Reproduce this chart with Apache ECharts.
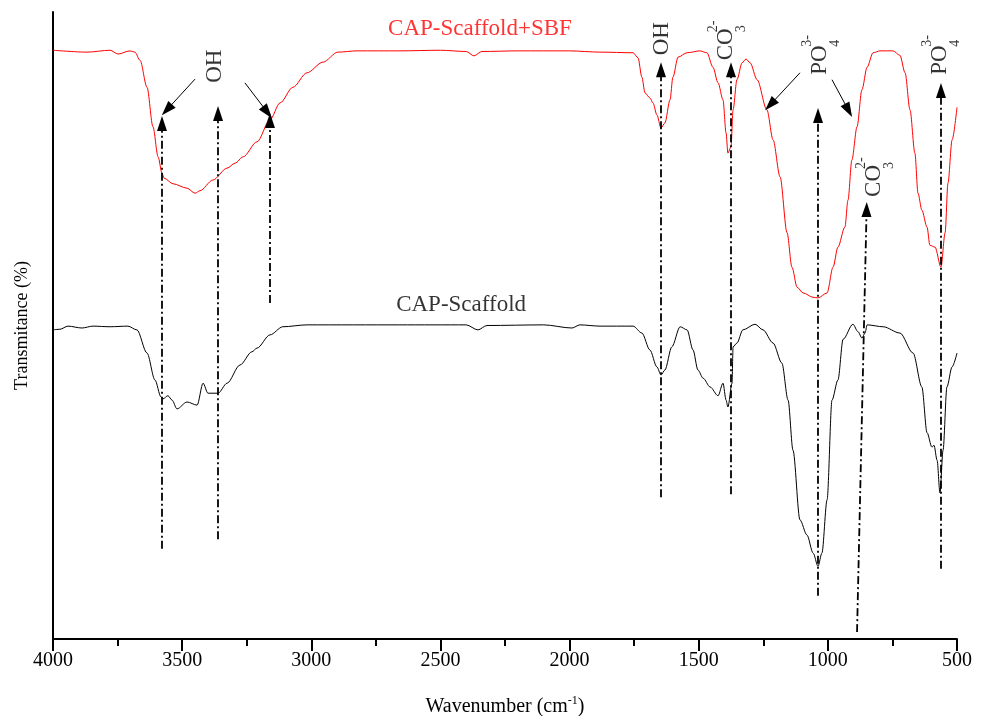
<!DOCTYPE html>
<html>
<head>
<meta charset="utf-8">
<script src="https://cdn.jsdelivr.net/npm/echarts@6/dist/echarts.min.js"></script>
<style>
  html, body { margin: 0; padding: 0; background: #fff; }
  #chart { width: 988px; height: 716px; }
</style>
</head>
<body>
<div id="chart"></div>
<script>
// FTIR spectra (wavenumber in cm-1, transmittance in arbitrary %)
const sbfWave = [4000, 3868, 3779, 3748, 3702, 3683, 3663, 3636, 3613, 3593, 3578, 3570, 3535, 3481, 3450, 3431, 3381, 3326, 3295, 3264, 3210, 3160, 3121, 3071, 3017, 2955, 2897, 2823, 2657, 2500, 2400, 2370, 2340, 2200, 2000, 1882, 1754, 1735, 1720, 1708, 1689, 1677, 1662, 1646, 1631, 1611, 1600, 1580, 1545, 1495, 1468, 1445, 1425, 1406, 1394, 1387, 1375, 1367, 1352, 1332, 1317, 1301, 1274, 1236, 1212, 1185, 1158, 1139, 1119, 1096, 1057, 1038, 1003, 980, 961, 934, 922, 907, 887, 868, 848, 825, 798, 748, 721, 701, 682, 663, 651, 636, 616, 605, 585, 562, 546, 535, 519, 500];
const sbfTrans = [93.9, 93.6, 93.9, 93.3, 93.8, 93.6, 92.3, 88.0, 81.7, 76.9, 74.3, 73.5, 72.6, 71.9, 71.1, 71.5, 73.2, 75.1, 75.9, 76.9, 79.3, 82.8, 85.5, 88.0, 90.3, 92.0, 93.6, 93.8, 93.8, 93.9, 93.7, 93.0, 93.7, 93.8, 93.8, 93.6, 93.5, 92.7, 89.6, 87.1, 86.3, 85.5, 83.6, 81.5, 82.3, 86.0, 89.6, 92.8, 93.5, 93.8, 93.5, 91.2, 88.7, 86.0, 80.7, 77.5, 78.5, 84.4, 89.2, 91.9, 92.5, 91.9, 89.2, 84.4, 79.6, 73.7, 64.8, 59.3, 56.1, 55.2, 54.5, 54.4, 55.2, 59.3, 62.5, 65.7, 70.0, 76.4, 81.7, 87.6, 91.2, 93.5, 93.8, 93.8, 93.1, 90.3, 84.4, 77.5, 71.1, 68.4, 65.7, 62.8, 62.5, 59.3, 64.8, 72.7, 79.6, 84.8];

const scaffoldWave = [4000, 3973, 3942, 3888, 3845, 3779, 3710, 3675, 3636, 3605, 3582, 3574, 3555, 3539, 3520, 3481, 3442, 3419, 3400, 3361, 3326, 3276, 3230, 3210, 3160, 3110, 3017, 2657, 2400, 2355, 2320, 2100, 1991, 1960, 1882, 1754, 1720, 1689, 1662, 1646, 1631, 1604, 1572, 1545, 1522, 1503, 1483, 1456, 1425, 1406, 1394, 1387, 1371, 1367, 1352, 1329, 1282, 1251, 1212, 1178, 1154, 1135, 1108, 1081, 1057, 1038, 1023, 1003, 984, 961, 941, 903, 883, 868, 856, 848, 786, 721, 670, 636, 616, 597, 589, 577, 566, 554, 539, 519, 500];
const scaffoldTrans = [49.3, 49.4, 49.9, 49.6, 49.9, 49.8, 49.9, 49.3, 45.6, 41.3, 38.6, 38.3, 38.8, 38.1, 36.7, 37.8, 37.3, 40.8, 39.2, 39.2, 40.8, 43.7, 45.8, 46.4, 48.5, 49.8, 50.1, 50.1, 50.1, 49.3, 50.0, 50.1, 49.6, 50.1, 49.9, 49.9, 48.8, 46.1, 43.4, 42.1, 42.9, 46.6, 49.8, 49.3, 46.1, 42.9, 41.6, 40.2, 38.8, 40.8, 38.1, 37.0, 40.8, 46.6, 47.2, 49.3, 50.2, 49.3, 47.2, 44.0, 38.1, 30.1, 19.0, 16.6, 13.7, 11.6, 13.7, 22.2, 38.1, 41.3, 47.8, 50.2, 49.0, 48.0, 48.8, 50.1, 49.8, 48.8, 45.6, 40.2, 32.9, 30.6, 30.9, 28.5, 23.3, 30.1, 40.2, 43.4, 45.6];

// Band assignment guides (dash-dot, arrowhead centred on the upper end)
const guideFromWave = [3578, 3361, 3160, 1646, 1375, 1038, 887, 562];
const guideFromTrans = [14.4, 15.9, 53.6, 22.6, 23.1, 6.9, 1.1, 11.2];
const guideToWave = [3578, 3361, 3160, 1646, 1375, 1038, 850, 562];
const guideToTrans = [82.2, 83.8, 82.7, 90.8, 90.8, 83.5, 68.5, 87.5];

// Solid pointer arrows from the group labels
const pointerFromWave = [3450, 3257, 1108, 984];
const pointerFromTrans = [89.3, 88.7, 90.3, 89.2];
const pointerToWave = [3559, 3170, 1223, 920];
const pointerToTrans = [84.4, 84.0, 85.2, 84.3];

// Functional group labels
const bandIon = ['OH', 'OH', 'CO', 'PO', 'CO', 'PO'];
const bandCharge = ['', '', '2-', '3-', '2-', '3-'];
const bandCount = ['', '', '3', '4', '3', '4'];
const bandWave = [3373, 1642, 1387, 1023, 814, 558];
const bandTrans = [88.7, 93.1, 92.3, 90.0, 70.5, 90.0];

// Sample names
const sampleNames = ['CAP-Scaffold+SBF', 'CAP-Scaffold'];
const sampleNameWave = [2347, 2420];
const sampleNameTrans = [97.3, 53.3];

const serif = "'Liberation Serif', 'Times New Roman', 'DejaVu Serif', serif";

function zip(xs, ys) { return xs.map((x, i) => [x, ys[i]]); }

const dashDot = { color: '#000', width: 1.8, type: [8, 3, 2, 3] };
const solid = { color: '#000', width: 1, type: 'solid' };
const head = { symbol: 'triangle', symbolSize: [10, 15] };

const lineMarks = [];
guideFromWave.forEach((w, i) => {
  lineMarks.push([
    { coord: [w, guideFromTrans[i]], symbol: 'none', lineStyle: dashDot },
    Object.assign({ coord: [guideToWave[i], guideToTrans[i]] }, head)
  ]);
});
pointerFromWave.forEach((w, i) => {
  lineMarks.push([
    { coord: [w, pointerFromTrans[i]], symbol: 'none', lineStyle: solid },
    Object.assign({ coord: [pointerToWave[i], pointerToTrans[i]] }, head)
  ]);
});

const bandLabelData = bandIon.map((ion, i) => {
  let text = '{m|' + ion + '}';
  if (bandCharge[i]) {
    text = '{gap|}{sup|' + bandCharge[i] + '}\n' + text + '\n{gap|}{sub|' + bandCount[i] + '}';
  }
  return { value: [bandWave[i], bandTrans[i]], label: { formatter: text } };
});

const nameData = sampleNames.map((n, i) => ({
  value: [sampleNameWave[i], sampleNameTrans[i]],
  label: {
    formatter: n, rotate: 0, align: 'center', verticalAlign: 'middle',
    fontSize: 23, color: i === 0 ? '#ff0000' : '#000'
  }
}));

const chart = echarts.init(document.getElementById('chart'), null, { renderer: 'canvas' });
chart.setOption({
  animation: false,
  backgroundColor: '#fff',
  grid: { left: 53, right: 31, top: 12, bottom: 77, containLabel: false, outerBoundsMode: 'none' },
  xAxis: {
    type: 'value', min: 500, max: 4000, interval: 500, inverse: true,
    axisLine: { show: true, onZero: false, lineStyle: { color: '#000', width: 2 } },
    axisTick: { show: true, inside: false, length: 12, lineStyle: { color: '#000', width: 2 } },
    minorTick: { show: true, splitNumber: 2, length: 7, lineStyle: { color: '#000', width: 2 } },
    axisLabel: { color: '#000', fontSize: 20, fontFamily: serif, margin: 12, formatter: v => String(v) },
    splitLine: { show: false },
    minorSplitLine: { show: false },
    name: 'Wavenumber (cm{sup|-1})',
    nameLocation: 'middle', nameGap: 56,
    nameTextStyle: {
      color: '#000', fontSize: 20, fontFamily: serif,
      rich: { sup: { fontSize: 12, fontFamily: serif, color: '#000', verticalAlign: 'top', lineHeight: 24 } }
    }
  },
  yAxis: {
    type: 'value', min: 0, max: 100,
    axisLine: { show: true, onZero: false, lineStyle: { color: '#000', width: 2 } },
    axisTick: { show: false },
    axisLabel: { show: false },
    splitLine: { show: false },
    name: 'Transmitance (%)',
    nameLocation: 'middle', nameRotate: 90, nameGap: 22,
    nameTextStyle: { color: '#000', fontSize: 18, fontFamily: serif }
  },
  series: [
    {
      name: 'CAP-Scaffold+SBF', type: 'line', data: zip(sbfWave, sbfTrans),
      showSymbol: false, smooth: 0.3, smoothMonotone: 'x',
      lineStyle: { color: '#ff0000', width: 1 }, z: 3
    },
    {
      name: 'CAP-Scaffold', type: 'line', data: zip(scaffoldWave, scaffoldTrans),
      showSymbol: false, smooth: 0.3, smoothMonotone: 'x',
      lineStyle: { color: '#000', width: 1 }, z: 3
    },
    {
      type: 'scatter', data: bandLabelData.concat(nameData),
      symbolSize: 1, itemStyle: { color: 'rgba(0,0,0,0)' }, silent: true, z: 5,
      label: {
        show: true, position: 'inside', rotate: 90, align: 'left', verticalAlign: 'middle',
        color: '#000', fontFamily: serif, textBorderWidth: 0,
        rich: {
          m: { fontSize: 23, lineHeight: 18, fontFamily: serif, color: '#000' },
          sup: { fontSize: 14, lineHeight: 8, fontFamily: serif, color: '#000' },
          sub: { fontSize: 14, lineHeight: 12, fontFamily: serif, color: '#000' },
          gap: { width: 28, lineHeight: 8 }
        }
      },
      markLine: {
        silent: true, animation: false,
        label: { show: false },
        data: lineMarks
      }
    }
  ]
});
</script>
</body>
</html>
